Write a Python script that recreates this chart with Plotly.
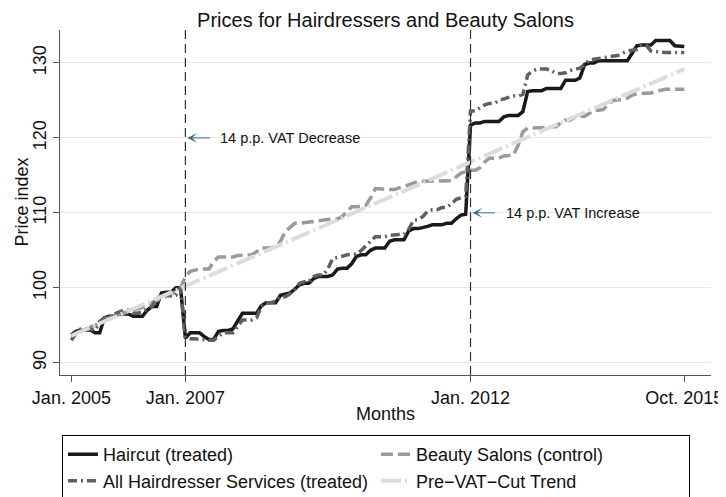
import pandas as pd
import plotly.graph_objects as go

months = pd.date_range("2005-01-01", "2015-10-01", freq="MS")

haircut = [
    93.7, 94.2, 94.3, 94.4, 94.4, 94.0, 94.0, 96.0, 96.2, 96.2, 96.5, 96.5,          # 2005
    96.5, 96.2, 96.2, 96.2, 97.0, 97.5, 97.5, 99.3, 99.4, 99.4, 100.0, 100.0,        # 2006
    93.3, 94.0, 94.0, 94.0, 93.5, 93.1, 93.1, 94.2, 94.3, 94.3, 94.5, 95.5,          # 2007
    96.6, 96.6, 96.6, 96.6, 97.6, 98.0, 98.0, 98.0, 99.0, 99.2, 99.3, 99.8,          # 2008
    100.4, 100.6, 100.6, 101.2, 101.5, 101.5, 101.5, 101.7, 102.5, 102.6, 102.6, 103.2,  # 2009
    104.2, 104.4, 104.4, 105.0, 105.3, 105.3, 105.3, 106.2, 106.4, 106.4, 106.4, 107.6,  # 2010
    107.9, 107.9, 108.0, 108.2, 108.4, 108.4, 108.4, 108.6, 108.6, 109.2, 109.7, 109.8,  # 2011
    121.7, 122.0, 122.0, 122.2, 122.2, 122.2, 122.2, 122.8, 123.0, 123.0, 123.0, 123.5,  # 2012
    126.2, 126.3, 126.3, 126.3, 126.6, 126.6, 126.6, 126.6, 127.7, 127.7, 127.7, 128.0,  # 2013
    129.8, 130.0, 130.0, 130.3, 130.3, 130.3, 130.3, 130.3, 130.3, 130.3, 131.3, 132.3,  # 2014
    132.4, 132.4, 132.4, 133.0, 133.0, 133.0, 133.0, 132.3, 132.3, 132.2,              # 2015
]

all_hairdresser = [
    93.0, 94.0, 94.5, 94.5, 94.5, 94.3, 95.5, 96.0, 96.0, 96.5, 96.8, 97.0,
    97.0, 96.6, 96.6, 96.8, 97.2, 97.5, 98.6, 99.0, 99.0, 98.9, 99.0, 100.0,
    93.4, 93.2, 93.2, 93.1, 93.0, 93.0, 93.0, 93.5, 94.0, 94.0, 94.0, 94.8,
    95.7, 95.7, 95.7, 96.0, 97.5, 98.0, 98.0, 98.2, 98.8, 98.8, 99.2, 99.8,
    100.6, 100.8, 100.8, 101.5, 101.7, 101.7, 102.5, 103.9, 104.0, 104.2, 104.4, 104.4,
    104.5, 105.0, 105.6, 106.2, 106.8, 106.8, 106.8, 107.0, 107.1, 107.1, 107.1, 107.8,
    109.0, 109.1, 109.5, 110.2, 110.4, 110.4, 110.7, 110.7, 111.2, 111.8, 112.0, 112.2,
    123.6, 123.6, 124.0, 124.4, 124.6, 124.6, 125.0, 125.2, 125.4, 125.6, 125.6, 125.8,
    128.4, 128.9, 129.2, 129.2, 129.2, 129.0, 128.6, 128.6, 128.7, 129.0, 129.1, 129.3,
    129.8, 130.4, 130.5, 130.6, 130.8, 130.9, 130.9, 131.0, 131.3, 131.6, 131.7, 131.8,
    132.4, 132.3, 131.6, 131.5, 131.5, 131.4, 131.4, 131.4, 131.4, 131.4,
]

beauty_salons = [
    93.5, 94.0, 94.2, 94.5, 94.8, 95.0, 95.2, 95.8, 96.0, 96.3, 96.5, 96.6,
    96.8, 97.0, 97.2, 97.4, 97.6, 98.0, 98.3, 98.6, 98.8, 99.2, 99.5, 100.0,
    101.5, 102.2, 102.4, 102.5, 102.5, 102.5, 103.5, 104.1, 104.1, 104.1, 104.1, 104.3,
    104.3, 104.4, 104.4, 104.8, 105.3, 105.3, 105.3, 105.5, 106.2, 107.5, 108.0, 108.6,
    108.6, 108.7, 108.7, 108.8, 109.0, 109.1, 109.1, 109.1, 109.2, 109.5, 110.2, 110.8,
    110.8, 110.9, 111.0, 112.0, 113.2, 113.2, 113.1, 113.1, 113.1, 113.3, 113.6, 113.8,
    114.0, 114.2, 114.2, 114.2, 114.2, 114.2, 114.2, 114.3, 114.3, 114.8, 115.3, 115.5,
    115.7, 115.7, 116.0, 116.8, 117.3, 117.3, 117.3, 117.6, 117.7, 117.7, 119.0, 120.8,
    121.3, 121.3, 121.3, 121.3, 121.4, 121.5, 121.5, 122.0, 122.4, 122.4, 122.8, 122.9,
    122.9, 123.3, 123.7, 123.7, 123.8, 124.5, 125.0, 125.1, 125.1, 125.3, 125.7, 125.9,
    125.9, 125.9, 126.0, 126.2, 126.4, 126.5, 126.5, 126.5, 126.5, 126.5,
]

trend_x = ["2005-01-01", "2015-10-01"]
trend_y = [93.6, 129.2]

tick_vals = ["2005-01-01", "2007-01-01", "2012-01-01", "2015-10-01"]
tick_text = ["Jan. 2005", "Jan. 2007", "Jan. 2012", "Oct. 2015"]

FONT = "Liberation Sans, Arial, Helvetica, sans-serif"

fig = go.Figure()
fig.add_trace(go.Scatter(x=months, y=haircut, mode="lines", name="Haircut (treated)",
                         line=dict(color="#1a1a1a", width=3.5)))
fig.add_trace(go.Scatter(x=months, y=beauty_salons, mode="lines", name="Beauty Salons (control)",
                         line=dict(color="#9a9a9a", width=3.5, dash="12px,5px")))
fig.add_trace(go.Scatter(x=months, y=all_hairdresser, mode="lines",
                         name="All Hairdresser Services (treated)",
                         line=dict(color="#606060", width=3.5, dash="9px,4px,2px,4px")))
fig.add_trace(go.Scatter(x=trend_x, y=trend_y, mode="lines", name="Pre\u2212VAT\u2212Cut Trend",
                         line=dict(color="#dcdcdc", width=4, dash="20px,4px,2px,4px")))

# VAT change markers
for d in ["2007-01-01", "2012-01-01"]:
    fig.add_vline(x=d, line=dict(color="#333333", width=1.2, dash="9px,5px"))

for d, yv, txt in [("2007-01-01", 120, "14 p.p. VAT Decrease"),
                   ("2012-01-01", 110, "14 p.p. VAT Increase")]:
    fig.add_annotation(x=d, y=yv, ax=26, ay=0, text="", showarrow=True,
                       arrowhead=3, arrowsize=1.6, arrowwidth=1, arrowcolor="#3f6c8c",
                       standoff=2)
    fig.add_annotation(x=d, y=yv, text=txt, showarrow=False, xanchor="left",
                       xshift=33, font=dict(size=14.5, color="#111111"))

# y axis title placed by hand (closer to the tick labels than plotly allows)
fig.add_annotation(text="Price index", xref="paper", yref="paper", x=0, y=0.5,
                   xanchor="center", yanchor="middle", xshift=-39, textangle=-90,
                   showarrow=False, font=dict(size=18, color="#111111"))

# page body adds an 8px margin, so the figure is drawn 8px smaller
fig.update_layout(
    width=718, height=489,
    margin=dict(l=52, r=15, t=22, b=122, autoexpand=False),
    paper_bgcolor="white", plot_bgcolor="white",
    font=dict(family=FONT, size=18, color="#111111"),
    title=dict(text="Prices for Hairdressers and Beauty Salons", x=0.5, xref="paper",
               y=0.961, yref="container", yanchor="bottom",
               font=dict(size=20, color="#111111")),
    showlegend=True,
    legend=dict(orientation="h", x=0.003, xanchor="left", y=-0.174, yanchor="top",
                entrywidth=268, entrywidthmode="pixels",
                bordercolor="#000000", borderwidth=1, bgcolor="white",
                font=dict(size=18)),
)

fig.update_xaxes(type="date", range=["2004-10-20", "2016-03-20"],
                 tickvals=tick_vals, ticktext=tick_text,
                 showgrid=False, zeroline=False, automargin=False,
                 showline=True, linecolor="#555555", linewidth=1.3,
                 ticks="outside", ticklen=6, tickcolor="#555555",
                 title=dict(text="Months", font=dict(size=18), standoff=0))

fig.update_yaxes(range=[88.36, 134.4], tickvals=[90, 100, 110, 120, 130],
                 tickangle=-90, showgrid=True, gridcolor="#e8e8e8", gridwidth=1.3,
                 zeroline=False, showline=True, linecolor="#555555", linewidth=1.3,
                 ticks="outside", ticklen=6, tickcolor="#555555", automargin=False)

fig.write_html("out.html")
